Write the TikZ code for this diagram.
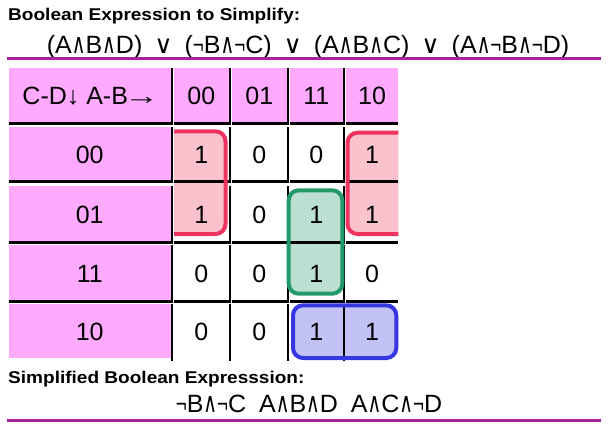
\documentclass[tikz,border=0pt]{standalone}
\usepackage{fontspec}
\setmainfont{Liberation Sans}
\newfontfamily\symf{DejaVu Sans}
\definecolor{hdrpink}{HTML}{FFAAFF}
\definecolor{purp}{HTML}{AA2299}
\definecolor{redf}{HTML}{FAC2CD}
\definecolor{redd}{HTML}{EE3360}
\definecolor{grnf}{HTML}{BBE0D1}
\definecolor{grnd}{HTML}{22996A}
\definecolor{bluf}{HTML}{C2C2F7}
\definecolor{blud}{HTML}{3636E2}
\newcommand\lAND{{\symf\scalebox{0.75}[1.1]{∧}}}
\newcommand\lOR{{\symf ∨}}
\newcommand\lNOT{\scalebox{0.75}[1]{¬}}
\newcommand\wide[1]{\scalebox{1.12}[1]{#1}}
\newcommand\rarr{\kern-4pt\scalebox{1.4}[1]{→}\kern-2pt}
\pgfdeclarelayer{back}
\pgfdeclarelayer{mid}
\pgfsetlayers{back,mid,main}
\begin{document}
\begin{tikzpicture}[x=1pt,y=-1pt,
  cellt/.style={inner sep=0pt, font=\fontsize{25}{30}\selectfont},
  titlet/.style={inner sep=0pt, anchor=base west, font=\fontsize{17}{20}\selectfont\bfseries},
  exprt/.style={inner sep=0pt, anchor=base, font=\fontsize{25}{30}\selectfont},
  gridline/.style={line width=2.5pt, black},
  purpline/.style={line width=3.2pt, purp},
  grp/.style={line width=4pt, rounded corners=10pt}
]
\useasboundingbox (0,0) rectangle (608,428);
\begin{pgfonlayer}{back}
\fill[white] (0,0) rectangle (608,428);
\end{pgfonlayer}
\def\XL{{9,174,232,290,346}}
\def\XR{{170.5,228.7,286.7,342.7,398.3}}
\def\YT{{68,127,186,245,304}}
\def\YB{{122,180.3,241,300,358.3}}
% titles
\node[titlet] (title1) at (8,21) {\wide{Boolean Expression to Simplify:}};
\node[exprt] (expr1) at (308,53.3) {(A\lAND B\lAND D)\hspace{12pt}\lOR\hspace{12pt}(\lNOT B\lAND\lNOT C)\hspace{12pt}\lOR\hspace{12pt}(A\lAND B\lAND C)\hspace{12pt}\lOR\hspace{12pt}(A\lAND\lNOT B\lAND\lNOT D)};
\coordinate (p1a) at (7,58.3);
\coordinate (p1b) at (601,58.3);
\draw[purpline] (p1a) -- (p1b);
\node[titlet] (title2) at (8,383) {\wide{Simplified Boolean Expresssion:}};
\node[exprt] (expr2) at (309,412) {\lNOT B\lAND\lNOT C\hspace{13pt}A\lAND B\lAND D\hspace{13pt}A\lAND C\lAND\lNOT D};
\coordinate (p2a) at (7,420.5);
\coordinate (p2b) at (601,420.5);
\draw[purpline] (p2a) -- (p2b);
% cells
\foreach \i/\j/\t in {0/0/{C-D↓ A-B\rarr},1/0/00,2/0/01,3/0/11,4/0/10,
  0/1/00,1/1/1,2/1/0,3/1/0,4/1/1,
  0/2/01,1/2/1,2/2/0,3/2/1,4/2/1,
  0/3/11,1/3/0,2/3/0,3/3/1,4/3/0,
  0/4/10,1/4/0,2/4/0,3/4/1,4/4/1}{
  \pgfmathsetmacro\xl{\XL[\i]}
  \pgfmathsetmacro\xr{\XR[\i]}
  \pgfmathsetmacro\yt{\YT[\j]}
  \pgfmathsetmacro\yb{\YB[\j]}
  \pgfmathsetmacro\w{\xr-\xl}
  \pgfmathsetmacro\h{\yb-\yt}
  \node[cellt, minimum width=\w pt, minimum height=\h pt] (c\i\j) at ({(\xl+\xr)/2},{(\yt+\yb)/2+1}) {\t};
  \pgfmathtruncatemacro\ishdr{(\i==0)||(\j==0)}
  \ifnum\ishdr=1
    \begin{pgfonlayer}{back}
      \fill[hdrpink] (\xl,\yt) rectangle (\xr,\yb);
    \end{pgfonlayer}
  \fi
}
\begin{pgfonlayer}{mid}
% group fills
\begin{scope}
  \clip (174,100) rectangle (240,260);
  \fill[redf, grp] (150,131.3) rectangle (225.5,234);
\end{scope}
\begin{scope}
  \clip (345,100) rectangle (398.3,260);
  \fill[redf, grp] (347.5,132.7) rectangle (420,234);
\end{scope}
\fill[grnf, grp] (288.7,190.3) rectangle (342.3,293.7);
\fill[bluf, grp] (293,305.3) rectangle (396.3,358);
% grid lines
\foreach \i in {0,...,4}{
  \foreach \j in {0,...,4}{
    \pgfmathsetmacro\xl{\XL[\i]}
    \pgfmathsetmacro\xr{\XR[\i]}
    \pgfmathsetmacro\yt{\YT[\j]}
    \pgfmathsetmacro\yb{\YB[\j]}
    \ifnum\i<4
      \draw[gridline] (\xr+1.25,\yt) -- (\xr+1.25,\yb+2.5);
    \fi
    \ifnum\j<4
      \ifnum\i<4
        \draw[gridline] (\xl,\yb+1.25) -- (\xr+2.5,\yb+1.25);
      \else
        \draw[gridline] (\xl,\yb+1.25) -- (\xr,\yb+1.25);
      \fi
    \fi
  }
}
% group borders
\begin{scope}
  \clip (174,100) rectangle (240,260);
  \draw[redd, grp] (150,131.3) rectangle (225.5,234);
\end{scope}
\begin{scope}
  \clip (345,100) rectangle (398.3,260);
  \draw[redd, grp] (347.5,132.7) rectangle (420,234);
\end{scope}
\draw[grnd, grp] (288.7,190.3) rectangle (342.3,293.7);
\draw[blud, grp] (293,305.3) rectangle (396.3,358);
\end{pgfonlayer}
\end{tikzpicture}
\end{document}
